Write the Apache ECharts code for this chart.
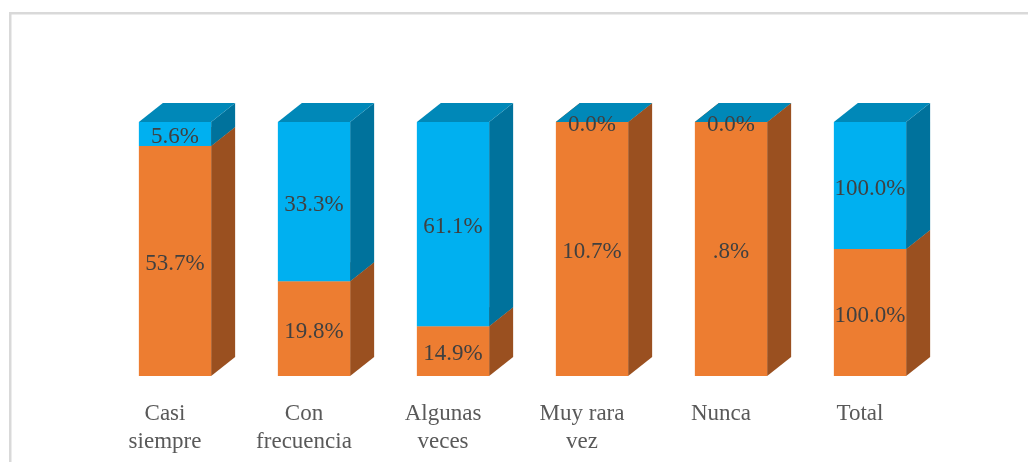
<!DOCTYPE html>
<html><head><meta charset="utf-8">
<script src="https://cdn.jsdelivr.net/npm/echarts@6/dist/echarts.min.js"></script>
<style>html,body{margin:0;padding:0;background:#fff}#c{width:1028px;height:462px}</style>
</head><body><div id="c"></div>
<script>
const categories = ['Casi\nsiempre', 'Con\nfrecuencia', 'Algunas\nveces', 'Muy rara\nvez', 'Nunca', 'Total'];
const orangeValues = [53.7, 19.8, 14.9, 10.7, 0.8, 100.0];
const blueValues = [5.6, 33.3, 61.1, 0.0, 0.0, 100.0];
const orangeLabels = ['53.7%', '19.8%', '14.9%', '10.7%', '.8%', '100.0%'];
const blueLabels = ['5.6%', '33.3%', '61.1%', '0.0%', '0.0%', '100.0%'];

const FONT = '"Liberation Serif", "Times New Roman", serif';
const DX = 24, DY = 19;

// 100% stacked shares
const orangeData = [], blueData = [];
categories.forEach((c, i) => {
  const tot = orangeValues[i] + blueValues[i];
  const so = orangeValues[i] / tot;
  orangeData.push([i, 0, so]);
  blueData.push([i, so, 1]);
});

function makeRender(front, side, top) {
  return function (params, api) {
    const i = api.value(0);
    const pb = api.coord([i, api.value(1)]);
    const pt = api.coord([i, api.value(2)]);
    const bw = api.size([1, 0])[0] * 0.52;
    const x0 = pb[0] - bw / 2, x1 = x0 + bw;
    const yb = pb[1], yt = pt[1];
    const label = params.seriesIndex === 0 ? orangeLabels[params.dataIndex] : blueLabels[params.dataIndex];
    return {
      type: 'group',
      children: [
        { type: 'polygon', shape: { points: [[x1, yb], [x1 + DX, yb - DY], [x1 + DX, yt - DY], [x1, yt]] }, style: { fill: side } },
        { type: 'polygon', shape: { points: [[x0, yt], [x1, yt], [x1 + DX, yt - DY], [x0 + DX, yt - DY]] }, style: { fill: top } },
        { type: 'rect', shape: { x: x0, y: yt, width: bw, height: yb - yt }, style: { fill: front } },
        { type: 'text', x: pb[0], y: (yb + yt) / 2 + 3, style: { text: label, fill: '#404040', fontSize: 23, fontFamily: FONT, align: 'center', verticalAlign: 'middle' } }
      ]
    };
  };
}

const chart = echarts.init(document.getElementById('c'), null, { renderer: 'canvas' });
chart.setOption({
  animation: false,
  backgroundColor: '#ffffff',
  graphic: [{
    type: 'rect', shape: { x: 10.25, y: 13.25, width: 1200, height: 800 },
    style: { fill: 'none', stroke: '#D9D9D9', lineWidth: 2.5 }, silent: true, z: -10
  }],
  grid: { left: 105.5, right: 88.5, top: 122, bottom: 86 },
  xAxis: {
    type: 'category', data: categories,
    axisLine: { show: false }, axisTick: { show: false }, splitLine: { show: false },
    axisLabel: { fontFamily: FONT, fontSize: 23, color: '#595959', lineHeight: 28, margin: 24, padding: [0, 20, 0, 0], interval: 0 }
  },
  yAxis: { type: 'value', min: 0, max: 1, show: false, splitLine: { show: false } },
  series: [
    { type: 'custom', name: 'A', data: orangeData, renderItem: makeRender('#ED7D31', '#9A5020', '#B05E27'), encode: { x: 0, y: [1, 2] } },
    { type: 'custom', name: 'B', data: blueData, renderItem: makeRender('#00B0F0', '#00729C', '#0088B8'), encode: { x: 0, y: [1, 2] } }
  ]
});
</script></body></html>
